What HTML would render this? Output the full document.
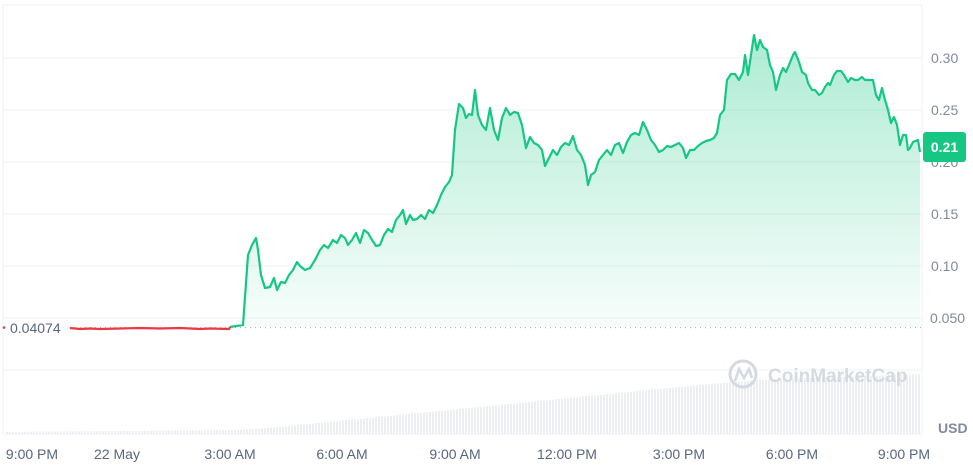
<!DOCTYPE html>
<html><head><meta charset="utf-8"><style>
body{margin:0;background:#fff;width:973px;height:462px;overflow:hidden;font-family:"Liberation Sans",sans-serif}
</style></head><body>
<svg width="973" height="462" viewBox="0 0 973 462" xmlns="http://www.w3.org/2000/svg">
<defs>
<linearGradient id="g" x1="0" y1="0" x2="0" y2="1">
<stop offset="0" stop-color="#16c784" stop-opacity="0.35"/>
<stop offset="1" stop-color="#16c784" stop-opacity="0.03"/>
</linearGradient>
<pattern id="vb" width="3" height="10" patternUnits="userSpaceOnUse"><rect width="2" height="10" fill="#eceef1"/></pattern>
</defs>
<rect x="3" y="5" width="919" height="429" fill="none" stroke="#eff2f5"/>
<g stroke="#eff2f5" stroke-width="1">
<line x1="3" y1="58" x2="922" y2="58"/><line x1="3" y1="110" x2="922" y2="110"/>
<line x1="3" y1="162" x2="922" y2="162"/><line x1="3" y1="214" x2="922" y2="214"/>
<line x1="3" y1="266" x2="922" y2="266"/><line x1="3" y1="318" x2="922" y2="318"/>
<line x1="3" y1="370" x2="922" y2="370"/>
</g>
<polygon fill="url(#vb)" points="5,432 240,430 300,425 400,415 500,405 600,395 700,385 760,380 920,374 920,434 5,434"/>
<line x1="70" y1="327.6" x2="922" y2="327.6" stroke="#a0a6b0" stroke-dasharray="1,4"/>
<polyline fill="url(#g)" stroke="none" points="230,327 243,325 248,255 252,245 256,238 258,250 261,275 265,288 270,287 274,278 277,290 281,282 285,283 289,275 293,270 297,262 300,266 305,270 310,268 315,260 320,250 324,245 328,248 333,240 337,243 341,235 345,238 348,245 352,240 356,233 360,243 364,230 368,233 372,240 376,246 380,245 384,235 388,229 392,232 396,220 400,215 403,210 406,224 410,215 413,220 417,219 421,215 425,219 429,210 433,213 437,205 441,195 445,187 449,182 452,175 455,130 459,104 463,108 466,118 469,114 472,115 475,90 478,115 482,125 486,130 490,108 494,130 498,140 502,118 506,108 510,115 514,112 518,113 522,125 526,148 530,137 534,143 538,145 542,150 545,166 549,158 553,150 557,155 561,147 565,143 569,145 573,136 577,150 581,155 585,165 588,185 591,175 595,172 599,160 603,155 607,150 611,155 615,145 619,143 623,153 627,142 631,135 635,133 639,135 643,122 647,130 651,140 655,145 659,152 663,150 667,146 671,147 675,145 679,143 683,148 686,158 690,150 694,150 698,146 702,143 706,141 710,140 714,138 717,133 720,115 724,110 727,80 731,74 735,74 739,80 743,72 745,55 748,75 751,55 754,35 757,50 760,40 763,47 767,50 770,65 773,72 776,90 780,75 783,68 786,72 789,65 793,55 795,52 799,62 802,72 806,75 808,83 812,90 815,90 819,95 822,93 825,87 828,83 830,85 834,75 837,71 841,71 844,75 848,82 851,78 855,80 858,80 862,77 865,80 869,80 873,80 876,95 879,100 882,88 885,100 888,110 891,123 894,117 897,125 900,145 903,135 906,135 908,150 910,148 913,142 918,140 920,152 920,327 230,327"/>
<polyline fill="none" stroke="#16c784" stroke-width="2.2" stroke-linejoin="round" points="230,327 243,325 248,255 252,245 256,238 258,250 261,275 265,288 270,287 274,278 277,290 281,282 285,283 289,275 293,270 297,262 300,266 305,270 310,268 315,260 320,250 324,245 328,248 333,240 337,243 341,235 345,238 348,245 352,240 356,233 360,243 364,230 368,233 372,240 376,246 380,245 384,235 388,229 392,232 396,220 400,215 403,210 406,224 410,215 413,220 417,219 421,215 425,219 429,210 433,213 437,205 441,195 445,187 449,182 452,175 455,130 459,104 463,108 466,118 469,114 472,115 475,90 478,115 482,125 486,130 490,108 494,130 498,140 502,118 506,108 510,115 514,112 518,113 522,125 526,148 530,137 534,143 538,145 542,150 545,166 549,158 553,150 557,155 561,147 565,143 569,145 573,136 577,150 581,155 585,165 588,185 591,175 595,172 599,160 603,155 607,150 611,155 615,145 619,143 623,153 627,142 631,135 635,133 639,135 643,122 647,130 651,140 655,145 659,152 663,150 667,146 671,147 675,145 679,143 683,148 686,158 690,150 694,150 698,146 702,143 706,141 710,140 714,138 717,133 720,115 724,110 727,80 731,74 735,74 739,80 743,72 745,55 748,75 751,55 754,35 757,50 760,40 763,47 767,50 770,65 773,72 776,90 780,75 783,68 786,72 789,65 793,55 795,52 799,62 802,72 806,75 808,83 812,90 815,90 819,95 822,93 825,87 828,83 830,85 834,75 837,71 841,71 844,75 848,82 851,78 855,80 858,80 862,77 865,80 869,80 873,80 876,95 879,100 882,88 885,100 888,110 891,123 894,117 897,125 900,145 903,135 906,135 908,150 910,148 913,142 918,140 920,152"/>
<polyline fill="none" stroke="#ea3943" stroke-width="2.2" points="70,328 80,329 90,328.5 100,329 120,328.5 140,328 160,328.5 180,328 200,329 210,328.5 229,329 230,327"/>
<circle cx="4" cy="327.6" r="1.3" fill="#ea3943"/>
<text x="10" y="333" font-size="14" fill="#58667e">0.04074</text>
<g font-size="14" fill="#808a9d">
<text x="931" y="63">0.30</text><text x="931" y="115">0.25</text><text x="931" y="167">0.20</text>
<text x="931" y="219">0.15</text><text x="931" y="271">0.10</text><text x="930" y="323">0.050</text>
</g>
<rect x="923" y="132" width="43" height="30" rx="3" fill="#16c784"/>
<text x="944.5" y="152" font-size="14" font-weight="bold" fill="#fff" text-anchor="middle">0.21</text>
<text x="938" y="433" font-size="14" font-weight="bold" fill="#808a9d">USD</text>
<g font-size="14" fill="#58667e" text-anchor="middle">
<text x="32" y="459">9:00 PM</text><text x="117" y="459">22 May</text><text x="230" y="459">3:00 AM</text>
<text x="342" y="459">6:00 AM</text><text x="455" y="459">9:00 AM</text><text x="567" y="459">12:00 PM</text>
<text x="679" y="459">3:00 PM</text><text x="792" y="459">6:00 PM</text><text x="904" y="459">9:00 PM</text>
</g>
<circle cx="743" cy="374" r="13" fill="none" stroke="#d5d9e0" stroke-width="3"/>
<path d="M735,381 L739,369 L744,378 L749,369 L752,378" fill="none" stroke="#d5d9e0" stroke-width="2.5"/>
<text x="768" y="382" font-size="19" font-weight="bold" fill="#d5d9e0">CoinMarketCap</text>
</svg>
</body></html>
